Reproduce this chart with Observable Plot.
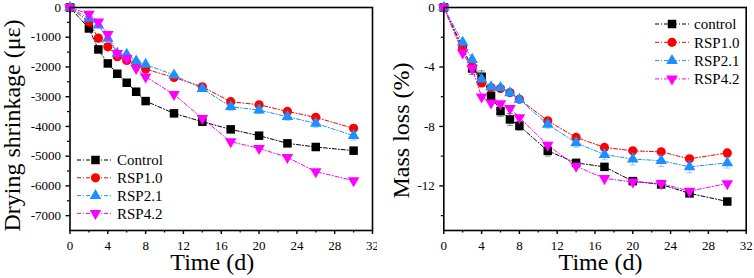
<!DOCTYPE html>
<html><head><meta charset="utf-8">
<script src="https://cdn.jsdelivr.net/npm/d3@7"></script>
<script src="https://cdn.jsdelivr.net/npm/@observablehq/plot@0.6"></script>
<style>
html,body{margin:0;padding:0;background:#fff;}
#wrap{display:flex;width:754px;height:278px;overflow:hidden;}
#wrap svg{display:block;}
#wrap svg text{font-family:"Liberation Serif","Times New Roman",serif;}
</style></head><body><div id="wrap"></div>
<script>
// ---- data ----
const days = [0, 2, 3, 4, 5, 6, 7, 8, 11, 14, 17, 20, 23, 26, 30];

const shrinkControl = [0, -705, -1411, -1881, -2228, -2531, -2833, -3147, -3561, -3841, -4099, -4311, -4569, -4692, -4815];
const shrinkRSP10  = [0, -481, -1030, -1321, -1657, -1780, -1880, -2072, -2352, -2665, -3169, -3270, -3494, -3695, -4065];
const shrinkRSP21  = [0, -370, -593, -1041, -1545, -1579, -1803, -1915, -2273, -2732, -3337, -3449, -3673, -3897, -4311];
const shrinkRSP42  = [0, -224, -481, -907, -1545, -1713, -2049, -2329, -2923, -3729, -4513, -4737, -5039, -5521, -5823];
const shrinkErr21  = [0, 0, 0, 0, 0, 0, 0, 0, 60, 80, 120, 110, 120, 130, 150];

const massControl = [0, -2.7, -4.1, -4.66, -5.94, -6.97, -7.53, -7.96, -9.64, -10.45, -10.72, -11.68, -11.9, -12.5, -13.05];
const massRSP10  = [0, -2.83, -3.95, -5.07, -5.38, -5.45, -5.72, -6.17, -7.62, -8.74, -9.41, -9.64, -9.71, -10.18, -9.78];
const massRSP21  = [0, -2.35, -3.5, -4.82, -5.34, -5.4, -5.74, -6.19, -7.87, -9.1, -9.89, -10.2, -10.3, -10.72, -10.45];
const massRSP42  = [0, -3.05, -4.1, -6.01, -6.41, -6.46, -6.79, -7.4, -9.26, -10.67, -11.5, -11.73, -11.84, -12.35, -11.84];
const massErrControl = [0, 0.2, 0.4, 0.4, 0.35, 0.35, 0.4, 0.3, 0.35, 0.2, 0.2, 0.2, 0.2, 0.2, 0.1];
const massErr21  = [0, 0.1, 0.1, 0.15, 0.15, 0.15, 0.2, 0.2, 0.25, 0.3, 0.35, 0.4, 0.4, 0.4, 0.35];

const shrinkNames = ["Control", "RSP1.0", "RSP2.1", "RSP4.2"];
const massNames = ["control", "RSP1.0", "RSP2.1", "RSP4.2"];
const colors = ["#000000", "#ff0000", "#1e8fff", "#ff00ff"];

const xTicks = [0, 4, 8, 12, 16, 20, 24, 28, 32];
const xMinorTicks = [2, 6, 10, 14, 18, 22, 26, 30];
const shrinkTicks = [0, -1000, -2000, -3000, -4000, -5000, -6000, -7000];
const shrinkMinorTicks = [-500, -1500, -2500, -3500, -4500, -5500, -6500];
const massTicks = [0, -4, -8, -12];
const massMinorTicks = [-2, -6, -10, -14];

// ---- symbols ----
const triangleDown = {
  draw(ctx, size) {
    const y = -Math.sqrt(size / (Math.sqrt(3) * 3));
    ctx.moveTo(0, -y * 2);
    ctx.lineTo(-Math.sqrt(3) * y, y);
    ctx.lineTo(Math.sqrt(3) * y, y);
    ctx.closePath();
  }
};
const capSymbol = {
  draw(ctx) { ctx.moveTo(-3, 0); ctx.lineTo(3, 0); }
};
const symbols = [d3.symbolSquare, d3.symbolCircle, d3.symbolTriangle, triangleDown];
const radii = [4.8, 4.6, 4.3, 4.3];
const dash = "4,2,1,2";
const font = "'Liberation Serif', 'Times New Roman', serif";

function legendMark(names, L) {
  return (index, scales, values, dims) => {
    const g = d3.create("svg:g");
    names.forEach((name, i) => {
      const y = L.y0 + i * L.step;
      g.append("line").attr("x1", L.x0).attr("x2", L.x0 + L.len).attr("y1", y).attr("y2", y)
        .attr("stroke", colors[i]).attr("stroke-width", 1).attr("stroke-dasharray", dash);
      g.append("path").attr("transform", `translate(${L.x0 + L.mk},${y})`)
        .attr("d", d3.symbol(symbols[i], Math.PI * radii[i] * radii[i])())
        .attr("fill", colors[i]);
      g.append("text").attr("x", L.x0 + L.tx).attr("y", y).attr("dy", "0.35em")
        .attr("text-anchor", "start").attr("fill", "#000")
        .style("font-family", font).style("font-size", "15px").text(name);
    });
    return g.node();
  };
}

function panel(o) {
  const rows = [];
  o.series.forEach((vals, s) => vals.forEach((v, i) => rows.push({s, x: days[i], y: v, e: o.errs[s] ? o.errs[s][i] : 0})));
  const marks = [
    Plot.axisX({ticks: xTicks, tickSize: 4, tickPadding: 6, fontSize: 13, tickFormat: d => String(d), label: null, strokeWidth: 1.4}),
    Plot.axisX({ticks: xMinorTicks, tickSize: 2.5, tickFormat: () => "", label: null, strokeWidth: 1.2}),
    Plot.axisY({ticks: o.yTicks, tickSize: 4, tickPadding: 5, fontSize: 13, tickFormat: d => String(d), label: null, strokeWidth: 1.4}),
    Plot.axisY({ticks: o.yMinor, tickSize: 2.5, tickFormat: () => "", label: null, strokeWidth: 1.2}),
  ];
  o.series.forEach((vals, s) => {
    const data = rows.filter(r => r.s === s);
    const withErr = data.filter(r => r.e > 0);
    if (withErr.length) {
      marks.push(Plot.ruleX(withErr, {x: "x", y1: r => r.y - r.e, y2: r => r.y + r.e, stroke: colors[s], strokeOpacity: 0.6, strokeWidth: 0.8}));
      marks.push(Plot.dot(withErr, {x: "x", y: r => r.y - r.e, symbol: capSymbol, stroke: colors[s], strokeOpacity: 0.6, strokeWidth: 0.8}));
      marks.push(Plot.dot(withErr, {x: "x", y: r => r.y + r.e, symbol: capSymbol, stroke: colors[s], strokeOpacity: 0.6, strokeWidth: 0.8}));
    }
    marks.push(Plot.line(data, {x: "x", y: "y", stroke: colors[s], strokeWidth: 1, strokeDasharray: dash}));
    marks.push(Plot.dot(data, {x: "x", y: "y", symbol: symbols[s], r: radii[s], fill: colors[s], stroke: "none"}));
  });
  marks.push(Plot.frame({stroke: "#000", strokeWidth: 1.6}));
  marks.push(Plot.text(["Time (d)"], {frameAnchor: "bottom", lineAnchor: "top", textAnchor: "middle", dy: 22, dx: o.xTitleDx, fontSize: 24, fill: "#000"}));
  marks.push(Plot.text([o.yLabel], {frameAnchor: "left", rotate: -90, lineAnchor: "top", textAnchor: "middle", dx: o.yTitleDx, dy: o.yTitleDy, fontSize: 24, fill: "#000"}));
  marks.push(legendMark(o.names, o.legend));
  return Plot.plot({
    width: 377, height: 278,
    marginTop: 7, marginBottom: 48, marginLeft: o.marginLeft, marginRight: o.marginRight,
    x: {domain: [0, 32]},
    y: {domain: o.yDomain},
    style: {fontFamily: font, background: "#fff", color: "#000", overflow: "visible"},
    marks
  });
}

const left = panel({
  series: [shrinkControl, shrinkRSP10, shrinkRSP21, shrinkRSP42],
  errs: [null, null, shrinkErr21, null],
  names: shrinkNames,
  yDomain: [-7500, 0], yTicks: shrinkTicks, yMinor: shrinkMinorTicks,
  marginLeft: 69.5, marginRight: 5,
  yLabel: "Drying shrinkage (με)", yTitleDx: -67.5, yTitleDy: 6.5, xTitleDx: -9,
  legend: {x0: 77, len: 35, mk: 18.5, tx: 40, y0: 160, step: 17.8}
});
const right = panel({
  series: [massControl, massRSP10, massRSP21, massRSP42],
  errs: [massErrControl, null, massErr21, null],
  names: massNames,
  yDomain: [-15, 0], yTicks: massTicks, yMinor: massMinorTicks,
  marginLeft: 66.3, marginRight: 8.3,
  yLabel: "Mass loss (%)", yTitleDx: -52.3, yTitleDy: 11.5, xTitleDx: 5.5,
  legend: {x0: 278, len: 34, mk: 17, tx: 39, y0: 24, step: 18.3}
});
document.getElementById("wrap").append(left, right);
</script>
</body></html>
